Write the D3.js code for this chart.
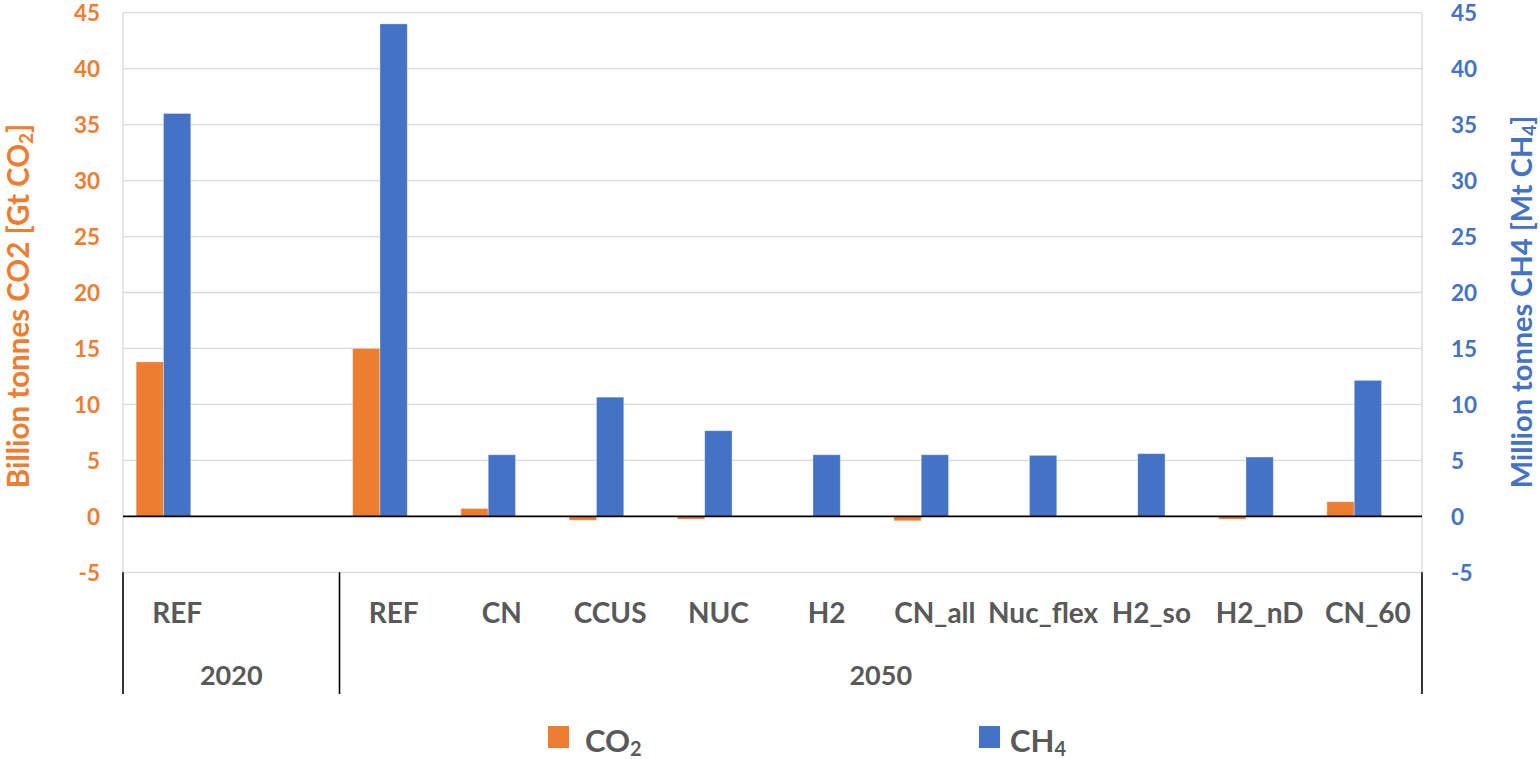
<!DOCTYPE html>
<html>
<head>
<meta charset="utf-8">
<script src="https://cdn.jsdelivr.net/npm/d3@7"></script>
<style>
  html, body { margin: 0; padding: 0; background: #fff; }
  svg { display: block; font-family: Lato, "Open Sans", sans-serif; font-weight: bold; }
</style>
</head>
<body>
<svg id="chart" width="1540" height="759"></svg>
<script>
// Scenario labels (first row of the category axis); the second slot is an empty spacer
const categories = ["REF", "", "REF", "CN", "CCUS", "NUC", "H2", "CN_all", "Nuc_flex", "H2_so", "H2_nD", "CN_60"];
// Year groups spanning category indices (second row of the category axis)
const yearLabels = ["2020", "2050"];
const yearFirst = [0, 2];
const yearLast = [1, 11];
// CO2 emissions, Gt CO2 (left axis)
const co2 = [13.8, null, 15.0, 0.7, -0.35, -0.25, 0, -0.4, 0, 0, -0.25, 1.3];
// CH4 emissions, Mt CH4 (right axis)
const ch4 = [36.0, null, 44.0, 5.5, 10.65, 7.65, 5.5, 5.5, 5.45, 5.6, 5.3, 12.15];
// Shared tick values of both value axes
const yTicks = [-5, 0, 5, 10, 15, 20, 25, 30, 35, 40, 45];
// Legend entries: formula and subscript
const legendNames = ["CO", "CH"];
const legendSubs = ["2", "4"];

const ORANGE = "#ED7D31", BLUE = "#4472C4", GRID = "#D9D9D9", TEXT = "#595959";
const COLORS = [ORANGE, BLUE];

const svg = d3.select("#chart");
const plot = { left: 123, right: 1422, top: 12.7, bottom: 572.3 };

const idx = d3.range(categories.length);
const x = d3.scaleBand().domain(idx).range([plot.left, plot.right])
  .paddingInner(0.2425).paddingOuter(0.12125);
// three slots per cluster: CO2, CH4 and an unused third one
const xSub = d3.scaleBand().domain([0, 1, 2]).range([0, x.bandwidth()]);

const yLeft = d3.scaleLinear().domain([-5, 45]).range([plot.bottom, plot.top]);
const yRight = d3.scaleLinear().domain([-5, 45]).range([plot.bottom, plot.top]);

// gridlines
svg.append("g").selectAll("line").data(yTicks).join("line")
  .attr("x1", plot.left).attr("x2", plot.right)
  .attr("y1", d => yLeft(d)).attr("y2", d => yLeft(d))
  .attr("stroke", GRID).attr("stroke-width", 1.3);

// plot-area side borders
[plot.left, plot.right].forEach(px => {
  svg.append("line").attr("x1", px).attr("x2", px)
    .attr("y1", plot.top).attr("y2", plot.bottom)
    .attr("stroke", GRID).attr("stroke-width", 1.3);
});

// bars
const series = [
  { values: co2, color: ORANGE, slot: 0, y: yLeft },
  { values: ch4, color: BLUE, slot: 1, y: yRight }
];
series.forEach(s => {
  svg.append("g").selectAll("rect")
    .data(idx.filter(i => s.values[i] !== null))
    .join("rect")
    .attr("x", i => x(i) + xSub(s.slot))
    .attr("width", xSub.bandwidth())
    .attr("y", i => s.y(Math.max(0, s.values[i])))
    .attr("height", i => Math.abs(s.y(s.values[i]) - s.y(0)))
    .attr("fill", s.color)
    .attr("stroke", "rgba(255,255,255,0.45)").attr("stroke-width", 0.8);
});

// zero line
svg.append("line")
  .attr("x1", plot.left).attr("x2", plot.right)
  .attr("y1", yLeft(0)).attr("y2", yLeft(0))
  .attr("stroke", "#000").attr("stroke-width", 1.6);

const plain = d => String(d);

// left value axis
const axL = svg.append("g").attr("transform", `translate(${plot.left - 23},0)`)
  .call(d3.axisLeft(yLeft).tickValues(yTicks).tickFormat(plain).tickSize(0).tickPadding(0));
axL.select(".domain").remove();
axL.selectAll("text").attr("fill", ORANGE).attr("font-size", 22.5)
  .attr("font-family", "Lato").attr("font-weight", "bold").attr("dy", "0.36em");

// right value axis
const axR = svg.append("g").attr("transform", `translate(${plot.right + 29},0)`)
  .call(d3.axisRight(yRight).tickValues(yTicks).tickFormat(plain).tickSize(0).tickPadding(0));
axR.select(".domain").remove();
axR.selectAll("text").attr("fill", BLUE).attr("font-size", 22.5)
  .attr("font-family", "Lato").attr("font-weight", "bold").attr("dy", "0.36em");

// category axis: scenario row, year row and separators
const half = x.step() * x.paddingInner() / 2;
const edgeL = i => x(i) - half;
const edgeR = i => x(i) + x.bandwidth() + half;
const sepBottom = 694;
const seps = [edgeL(0)].concat(yearLast.map(edgeR));
svg.append("g").selectAll("line").data(seps).join("line")
  .attr("x1", d => d).attr("x2", d => d)
  .attr("y1", plot.bottom).attr("y2", sepBottom)
  .attr("stroke", "#000").attr("stroke-width", 1.6);

svg.append("g").selectAll("text").data(idx).join("text")
  .attr("x", i => x(i) + x.bandwidth() / 2)
  .attr("y", 623)
  .attr("text-anchor", "middle")
  .attr("fill", TEXT).attr("font-size", 28)
  .text(i => categories[i]);

svg.append("g").selectAll("text").data(d3.range(yearLabels.length)).join("text")
  .attr("x", k => (edgeL(yearFirst[k]) + edgeR(yearLast[k])) / 2)
  .attr("y", 685)
  .attr("text-anchor", "middle")
  .attr("fill", TEXT).attr("font-size", 27)
  .text(k => yearLabels[k]);

// axis titles with chemical subscripts
function titled(g, parts, color, size) {
  const t = g.append("text").attr("text-anchor", "middle").attr("fill", color).attr("font-size", size);
  parts.forEach(p => {
    const ts = t.append("tspan").text(p.t);
    if (p.sub) ts.attr("font-size", Math.round(size * 0.65)).attr("baseline-shift", -4);
  });
  return t;
}
titled(svg.append("g").attr("transform", "translate(29,306) rotate(-90)"),
  [{ t: "Billion tonnes CO2 [Gt CO" }, { t: "2", sub: true }, { t: "]" }], ORANGE, 29.5);
titled(svg.append("g").attr("transform", "translate(1532,302) rotate(-90)"),
  [{ t: "Million tonnes CH4 [Mt CH" }, { t: "4", sub: true }, { t: "]" }], BLUE, 29);

// legend
const legendSwatchX = [548, 979];
const legendTextX = [585, 1010];
const lg = svg.append("g").selectAll("g").data(d3.range(legendNames.length)).join("g");
lg.append("rect")
  .attr("x", k => legendSwatchX[k]).attr("y", 726)
  .attr("width", 21).attr("height", 22).attr("fill", k => COLORS[k]);
const lt = lg.append("text")
  .attr("x", k => legendTextX[k]).attr("y", 752)
  .attr("fill", TEXT).attr("font-size", 31);
lt.append("tspan").text(k => legendNames[k]);
lt.append("tspan").attr("font-size", 20).attr("baseline-shift", -4).text(k => legendSubs[k]);
</script>
</body>
</html>
